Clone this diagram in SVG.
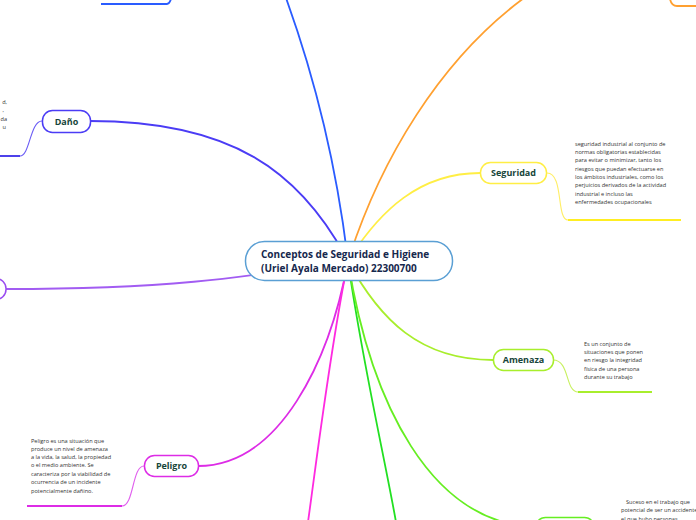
<svg xmlns="http://www.w3.org/2000/svg" width="696" height="520" viewBox="0 0 696 520">
<style>
.br{fill:none;stroke-width:1.8;stroke-linecap:round}
.sub{fill:none;stroke-width:1.1}
.ul{fill:none;stroke-width:1.8}
.node{fill:#fff;stroke-width:1.5}
.nt{font-family:"Open Sans","Noto Sans",sans-serif;font-weight:bold;font-size:9px;fill:#17453a;text-anchor:middle}
.ct{font-family:"Open Sans","Noto Sans",sans-serif;font-weight:bold;font-size:10px;fill:#16284d}
.tx{font-family:"Open Sans","Noto Sans",sans-serif;font-size:5.6px;fill:#333}
</style>
<rect width="696" height="520" fill="#fff"/>
<g id="connectors">
<path class="br" stroke="#2a5cff" d="M348,261 C336,160 312,70 286,-2"/>
<path class="ul" stroke="#2a5cff" d="M101,4 L167,4 C169,4 170,2 171,-1"/>
<path class="br" stroke="#4b3cf5" d="M348,261 C300,170 230,121 90,121"/>
<path class="sub" stroke="#6a5cf5" d="M42,121 C30,121 30,156 20,156"/>
<path class="ul" stroke="#3a2ce8" d="M20,156 L-2,156"/>
<path class="br" stroke="#a25cf2" d="M348,261 C250,276 180,289 6,289"/>
<path class="br" stroke="#dd2ce6" d="M348,261 C330,360 280,466 198,466"/>
<path class="sub" stroke="#e060ee" d="M144,466 C132,466 134,506 122,506"/>
<path class="ul" stroke="#dd2ce6" d="M122,506 L27,506"/>
<path class="br" stroke="#ff2ae0" d="M348,261 C330,350 318,450 308,522"/>
<path class="br" stroke="#22e022" d="M348,261 C360,350 385,460 396,522"/>
<path class="br" stroke="#66ee22" d="M348,261 C370,400 430,527 540,527"/>
<path class="br" stroke="#a8ee2c" d="M348,261 C380,320 420,360 493,360"/>
<path class="sub" stroke="#c8f060" d="M553,360 C570,360 565,392 578,392"/>
<path class="ul" stroke="#a8ee2c" d="M578,392 L652,392"/>
<path class="br" stroke="#ffee44" d="M348,261 C380,210 420,173 480,173"/>
<path class="sub" stroke="#ffee66" d="M547,173 C564,173 556,220 568,220"/>
<path class="ul" stroke="#ffee22" d="M568,220 L681,220"/>
<path class="br" stroke="#ffa030" d="M348,261 C380,160 440,60 524,-2"/>
<path class="ul" stroke="#ffa030" d="M670,-1 C671,4 673,6 677,6 L697,6"/>
</g>
<g id="center">
<rect class="node" x="245.5" y="241.5" width="207" height="39" rx="19" stroke="#5a9fd4"/>
<text class="ct" x="261" y="258">Conceptos de Seguridad e Higiene</text>
<text class="ct" x="261" y="272">(Uriel Ayala Mercado) 22300700</text>
</g>
<g id="dano">
<rect class="node" x="42.5" y="110.5" width="48" height="22" rx="10" stroke="#4b3cf5"/>
<text class="nt" x="66.5" y="124.5">Daño</text>
<g class="tx" text-anchor="end">
<text x="7" y="104">d,</text>
<text x="4" y="112">,</text>
<text x="7" y="121">da</text>
<text x="6" y="129">u</text>
</g>
</g>
<g id="left-node">
<rect class="node" x="-60" y="278.5" width="66" height="21" rx="10" stroke="#9a4cf0"/>
</g>
<g id="peligro">
<rect class="node" x="144.5" y="455.5" width="54" height="21" rx="10" stroke="#dd2ce6"/>
<text class="nt" x="171.5" y="469">Peligro</text>
<g class="tx">
<text x="31" y="443">Peligro es una situación que</text>
<text x="31" y="451">produce un nivel de amenaza</text>
<text x="31" y="459">a la vida, la salud, la propiedad</text>
<text x="31" y="467">o el medio ambiente. Se</text>
<text x="31" y="475.5">caracteriza por la viabilidad de</text>
<text x="31" y="484">ocurrencia de un incidente</text>
<text x="31" y="492.5">potencialmente dañino.</text>
</g>
</g>
<g id="suceso">
<rect class="node" x="535.5" y="517.5" width="59" height="21" rx="10" stroke="#66ee22"/>
<g class="tx">
<text x="626" y="504">Suceso en el trabajo que</text>
<text x="621" y="512">potencial de ser un accidente</text>
<text x="621" y="520.5">el que hubo personas</text>
</g>
</g>
<g id="amenaza">
<rect class="node" x="493.5" y="349.5" width="60" height="21" rx="10" stroke="#a8ee2c"/>
<text class="nt" x="523.5" y="363">Amenaza</text>
<g class="tx">
<text x="584" y="345.5">Es un conjunto de</text>
<text x="584" y="354">situaciones que ponen</text>
<text x="584" y="362">en riesgo la integridad</text>
<text x="584" y="370.5">física de una persona</text>
<text x="584" y="379">durante su trabajo</text>
</g>
</g>
<g id="seguridad">
<rect class="node" x="480.5" y="162.5" width="66" height="21" rx="10" stroke="#ffee44"/>
<text class="nt" x="513.5" y="176">Seguridad</text>
<g class="tx">
<text x="575" y="145.5">seguridad industrial al conjunto de</text>
<text x="575" y="154">normas obligatorias establecidas</text>
<text x="575" y="162">para evitar o minimizar, tanto los</text>
<text x="575" y="170.5">riesgos que puedan efectuarse en</text>
<text x="575" y="179">los ámbitos industriales, como los</text>
<text x="575" y="187">perjuicios derivados de la actividad</text>
<text x="575" y="195.5">industrial e incluso las</text>
<text x="575" y="204">enfermedades ocupacionales</text>
</g>
</g>
</svg>
